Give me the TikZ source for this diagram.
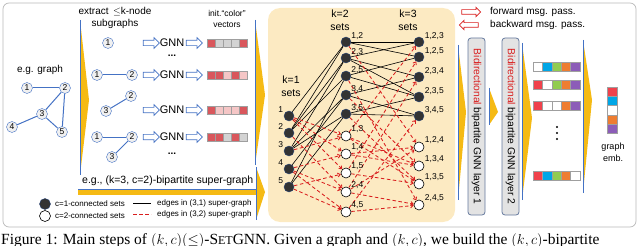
\documentclass[tikz,border=0pt]{standalone}
\usepackage{fontspec}
\setmainfont{Liberation Sans}
\newfontfamily\capfont{Liberation Serif}
\usepackage{xcolor}
\usetikzlibrary{shapes.geometric,shapes.arrows,arrows.meta,positioning,calc,backgrounds}

\definecolor{edgeblue}{HTML}{4472C4}
\definecolor{wedgeyellow}{HTML}{F5BA14}
\definecolor{setbg}{HTML}{FCEAC2}
\definecolor{darkset}{HTML}{333333}
\definecolor{vred}{HTML}{D9575C}
\definecolor{vpink}{HTML}{F5C6C6}
\definecolor{vgray}{HTML}{D3D3D3}
\definecolor{cred}{HTML}{F0424C}
\definecolor{cblue}{HTML}{00A6E6}
\definecolor{cgreen}{HTML}{92CC50}
\definecolor{corange}{HTML}{EE7D31}
\definecolor{cpurple}{HTML}{8C5DB8}
\definecolor{redline}{HTML}{D91E1E}

\begin{document}
\begin{tikzpicture}[x=1pt, y=-1pt,
  gnode/.style={circle, draw=edgeblue, fill=gray!12, inner sep=0pt, minimum size=11pt,
                font=\fontsize{8.5}{9}\selectfont},
  gedge/.style={edgeblue, line width=1pt},
  harrow/.style={single arrow, draw=edgeblue, fill=white, inner sep=2.3pt,
                 single arrow head extend=2.6pt, minimum height=16pt, line width=0.7pt},
  rarrow/.style={single arrow, draw=redline, fill=white, inner sep=2pt,
                 single arrow head extend=2.4pt, minimum height=19pt, line width=0.7pt},
  txt/.style={font=\fontsize{10}{11.5}\selectfont, align=center, inner sep=0pt},
  small/.style={font=\fontsize{8}{9}\selectfont, inner sep=0pt},
  cset/.style={circle, draw=edgeblue!60!black, fill=darkset, minimum size=10pt, inner sep=0pt},
  oset/.style={circle, draw=black, fill=white, minimum size=10pt, inner sep=0pt, line width=0.6pt},
  setlbl/.style={font=\fontsize{8.5}{9}\selectfont, inner sep=0pt},
  bedge/.style={black, line width=0.6pt},
  redge/.style={redline, dash pattern=on 3.5pt off 2.5pt, line width=0.85pt,
                -{Straight Barb[length=2.5pt,width=4pt]}},
  wline/.style={edgeblue, line width=0.7pt},
  cell/.style={draw=gray!75, line width=0.4pt},
  dot/.style={circle, fill=black, inner sep=0pt, minimum size=2.2pt},
  layer/.style={draw=edgeblue!45!gray, fill=gray!22, rounded corners=3pt, line width=0.8pt,
                minimum width=177pt, minimum height=17pt, rotate=-90, inner sep=0pt,
                font=\fontsize{10.3}{11}\selectfont}
]
\useasboundingbox (0,0) rectangle (640,246);
\draw[gray!55, line width=0.7pt, rounded corners=6pt] (3,3) rectangle (636,227);

\node[txt] (eg) at (40,70) {e.g. graph};
\node[gnode] (g1) at (27,88) {1};
\node[gnode] (g2) at (65,88) {2};
\node[gnode] (g3) at (42,114) {3};
\node[gnode] (g4) at (12,127) {4};
\node[gnode] (g5) at (62,132) {5};
\foreach \s/\t in {g1/g2, g2/g3, g2/g5, g3/g5, g3/g4}
  \draw[gedge] (\s) -- (\t);

\foreach \x/\ya/\yb/\yc/\w in {80/20/175/100/9, 255/20/165/95/10, 256/167/220/192/9,
    458/45/200/112/8, 489/88/125/112/9, 522/43/200/118/10, 583/40/193/100/9}{
  \fill[wedgeyellow] (\x,\ya) -- (\x+\w,\yc) -- (\x,\yb) -- cycle;
  \draw[wline] (\x,\ya) -- (\x,\yb);
}
\fill[wedgeyellow] (78,189) rectangle (256,195);
\draw[wline] (78,189) -- (256,189);

\node[txt] (extract) at (115,18) {extract \,$\leq$k-node\\subgraphs};
\node[gnode] (s1) at (108,43) {1};
\node[gnode] (s2a) at (97,75) {1};
\node[gnode] (s2b) at (132,75) {2};
\node[gnode] (s3a) at (131,96) {2};
\node[gnode] (s3b) at (106,111) {3};
\node[gnode] (s4a) at (97,137) {1};
\node[gnode] (s4b) at (132,137) {2};
\node[gnode] (s4c) at (112,157) {3};
\foreach \s/\t in {s2a/s2b, s3b/s3a, s4a/s4b, s4c/s4b}
  \draw[gedge] (\s) -- (\t);

\foreach \r/\y in {1/43,2/75,3/110,4/137}{
  \node[harrow] (in\r) at (150,\y) {};
  \node[txt, font=\fontsize{11}{12}\selectfont] (gnn\r) at (172,\y) {GNN};
  \node[harrow] (out\r) at (193,\y) {};
}
\node[txt, font=\bfseries\fontsize{10}{10}\selectfont] (dots1) at (172,56) {...};
\node[txt, font=\bfseries\fontsize{10}{10}\selectfont] (dots2) at (172,154) {...};
\node[txt, font=\fontsize{8.5}{10.5}\selectfont] (init) at (227,19) {init.``color''\\vectors};
\foreach \y/\cols in {43/{vred,vgray,vgray,vgray,vred}, 75/{vred,vred,vpink,vred,vpink},
    110/{vred,vpink,vpink,vpink,vred}, 137/{vred,vred,vgray,vred,vgray}}
  \foreach \c [count=\j] in \cols
    \draw[cell, fill=\c] (199+8*\j,\y-4) rectangle ++(8,8);

\node[txt, anchor=west, font=\fontsize{10.5}{11}\selectfont] (super) at (82,181)
  {e.g., (k=3, c=2)-bipartite super-graph};
\node[cset, minimum size=11pt] (leg1) at (45,204) {};
\node[oset, minimum size=11pt] (leg2) at (45,216) {};
\node[small, anchor=west] (leg1t) at (55,204) {c=1-connected sets};
\node[small, anchor=west] (leg2t) at (55,216) {c=2-connected sets};
\coordinate (bl1) at (133,203);
\coordinate (bl2) at (151,203);
\coordinate (rl1) at (133,214);
\coordinate (rl2) at (151,214);
\draw[bedge] (bl1) -- (bl2);
\draw[redline, dash pattern=on 3.5pt off 2.5pt, line width=0.85pt] (rl1) -- (rl2);
\node[small, anchor=west] (leg3t) at (157,203) {edges in (3,1) super-graph};
\node[small, anchor=west] (leg4t) at (157,214) {edges in (3,2) super-graph};

\begin{scope}[on background layer]
  \fill[setbg, rounded corners=12pt] (268,8) rectangle (455,222);
\end{scope}
\node[txt, font=\fontsize{10.5}{13}\selectfont] (k1) at (291,86) {k=1\\sets};
\node[txt, font=\fontsize{10.5}{13}\selectfont] (k2) at (340,20) {k=2\\sets};
\node[txt, font=\fontsize{10.5}{13}\selectfont] (k3) at (408,20) {k=3\\sets};
\foreach \i/\y in {1/116,2/133,3/151,4/169,5/187}
  \node[cset, label={[setlbl, anchor=south east, xshift=-2pt]north west:\i}] (a\i) at (289,\y) {};
\foreach \n/\t/\y in {12/{1,2}/42, 23/{2,3}/58, 25/{2,5}/76, 34/{3,4}/95, 35/{3,5}/114}
  \node[cset, label={[setlbl, anchor=south west, xshift=1.5pt, yshift=-1pt]north east:\t}] (b\n) at (346,\y) {};
\foreach \n/\t/\y in {13/{1,3}/136, 14/{1,4}/154, 15/{1,5}/173, 24/{2,4}/192, 45/{4,5}/212}
  \node[oset, label={[setlbl, anchor=south west, xshift=1.5pt, yshift=-1pt]north east:\t}] (b\n) at (346,\y) {};
\foreach \n/\t/\y in {123/{1,2,3}/42, 125/{1,2,5}/57, 234/{2,3,4}/77, 235/{2,3,5}/97, 345/{3,4,5}/116}
  \node[cset, label={[setlbl, anchor=south west, xshift=2pt, yshift=-1pt]north east:\t}] (c\n) at (419,\y) {};
\foreach \n/\t/\y in {124/{1,2,4}/147, 134/{1,3,4}/166, 135/{1,3,5}/184, 245/{2,4,5}/205}
  \node[oset, label={[setlbl, anchor=south west, xshift=2pt, yshift=-1pt]north east:\t}] (c\n) at (419,\y) {};

\begin{scope}[on background layer]
  \foreach \s/\t in {a1/b12, a2/b12, a2/b23, a2/b25, a3/b23, a3/b34, a3/b35, a4/b34, a5/b25, a5/b35,
      b12/c123, b12/c125, b23/c123, b23/c234, b23/c235, b25/c125, b25/c235, b34/c234, b34/c345,
      b35/c235, b35/c345}
    \draw[bedge] (\s) -- (\t);
  \foreach \s/\t in {a1/b13, a3/b13, a1/b14, a4/b14, a1/b15, a5/b15, a2/b24, a4/b24, a4/b45, a5/b45,
      b13/c123, b15/c125, b24/c234, b45/c345, b12/c124, b14/c124, b24/c124, b13/c134, b14/c134,
      b34/c134, b13/c135, b15/c135, b35/c135, b24/c245, b25/c245, b45/c245}
    \draw[redge] (\s) -- (\t);
\end{scope}

\node[rarrow] (fwd) at (470,12) {};
\node[rarrow, shape border rotate=180] (bwd) at (470,25) {};
\node[txt, anchor=west] (fwdt) at (490,12) {forward msg. pass.};
\node[txt, anchor=west] (bwdt) at (490,25) {backward msg. pass.};

\node[layer] (lay1) at (476.5,126.5) {\textcolor{redline}{Bidirectional} bipartite GNN layer 1};
\node[layer] (lay2) at (510.5,126.5) {\textcolor{redline}{Bidirectional} bipartite GNN layer 2};

\foreach \y/\cols in {67/{white,cblue,cgreen,corange,cpurple}, 85/{cred,white,cgreen,corange,cpurple},
    106/{cred,white,white,corange,cpurple}, 176/{cred,cblue,cgreen,corange,white}}
  \foreach \c [count=\j] in \cols
    \draw[cell, fill=\c] (523.6+9.4*\j,\y-4.5) rectangle ++(9.4,9);
\foreach \k/\y in {1/127,2/133,3/139}
  \node[dot] (vd\k) at (557,\y) {};
\foreach \c [count=\j] in {cred,cblue,white,corange,cpurple}
  \draw[cell, fill=\c] (607,78+9.2*\j) rectangle ++(10,9.2);
\node[txt, font=\fontsize{9}{12}\selectfont] (emb) at (613,152) {graph\\emb.};

\node[anchor=base west, inner sep=0pt, font=\capfont\fontsize{15.5}{16}\selectfont] (cap) at (1,244)
  {Figure 1: Main steps of $(k,c)(\leq)$-S{\fontsize{12}{12}\selectfont ET}GNN. Given a graph and $(k,c)$, we build the $(k,c)$-bipartite};
\end{tikzpicture}
\end{document}
